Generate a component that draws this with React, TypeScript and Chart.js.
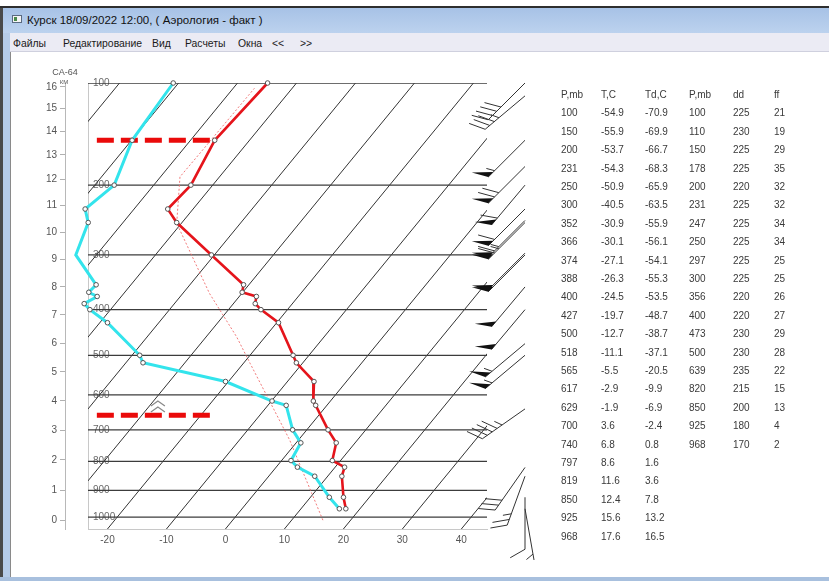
import React, { useEffect, useRef } from "react";
import { Chart, registerables } from "chart.js";

Chart.register(...registerables);

// ---- sounding data (table) ----
const PRESSURE_MB = [100, 150, 200, 231, 250, 300, 352, 366, 374, 388, 400, 427, 500, 518, 565, 617, 629, 700, 740, 797, 819, 850, 925, 968];
const TEMP_C = [-54.9, -55.9, -53.7, -54.3, -50.9, -40.5, -30.9, -30.1, -27.1, -26.3, -24.5, -19.7, -12.7, -11.1, -5.5, -2.9, -1.9, 3.6, 6.8, 8.6, 11.6, 12.4, 15.6, 17.6];
const DEW_C = [-70.9, -69.9, -66.7, -68.3, -65.9, -63.5, -55.9, -56.1, -54.1, -55.3, -53.5, -48.7, -38.7, -37.1, -20.5, -9.9, -6.9, -2.4, 0.8, 1.6, 3.6, 7.8, 13.2, 16.5];

// ---- wind data ----
const WIND_P = [100, 110, 150, 178, 200, 231, 247, 250, 297, 300, 356, 400, 473, 500, 639, 820, 850, 925, 968];
const WIND_DD = [225, 230, 225, 225, 220, 225, 225, 225, 225, 225, 220, 220, 230, 230, 235, 215, 200, 180, 170];
const WIND_FF = [21, 19, 29, 35, 32, 32, 34, 34, 25, 25, 26, 27, 29, 28, 22, 15, 13, 4, 2];

// ---- state curve (dotted) ----
const PARCEL_P = [1012, 731, 519, 458, 368, 251, 190, 163, 104];
const PARCEL_T = [15.3, -1.5, -18.9, -24.8, -35.5, -50.8, -56.7, -56.6, -56.4];

// ---- marker levels (thick dashed) ----
const MARKER_P = [150, 657];
const MARKER_X = [-21.8, -1.8];
const ICING_P = 617;
const ICING_X = -11.45;

// ---- grid / ticks ----
const ISOBARS = [100, 200, 300, 400, 500, 600, 700, 800, 900, 1000];
const ISOTHERMS = [-80, -70, -60, -50, -40, -30, -20, -10, 0, 10, 20, 30, 40];
const X_TICKS = [-20, -10, 0, 10, 20, 30, 40];
const KM_TICKS = [0, 1, 2, 3, 4, 5, 6, 7, 8, 9, 10, 11, 12, 13, 14, 15, 16];

const TABLE1_HEAD = ["P,mb", "T,C", "Td,C"];
const TABLE2_HEAD = ["P,mb", "dd", "ff"];
const MENU = ["Файлы", "Редактирование", "Вид", "Расчеты", "Окна", "<<", ">>"];
const MENU_X = [13, 63, 152, 185, 238, 272, 300];
const TITLE = "Курск 18/09/2022 12:00, ( Аэрология - факт )";

// ---- diagram transform ----
const KAPPA = 0.286;
const P_TOP = 100;
const P_BOTTOM = 1047;
const X_MIN = -23.3;
const X_MAX = 44.35;
const SKEW = 125.2;

const yOf = (p: number) => 1 - Math.pow(p / 1000, KAPPA);
const Y_MIN = yOf(P_BOTTOM);
const Y_MAX = yOf(P_TOP);
const skewX = (t: number, p: number) => t + SKEW * (yOf(p) - Y_MIN);
const pt = (t: number, p: number) => ({ x: skewX(t, p), y: yOf(p) });
const kmToP = (km: number) => {
  const z = km * 1000;
  if (z <= 11000) return 1013.25 * Math.pow(1 - 2.25577e-5 * z, 5.25588);
  return 226.32 * Math.exp(-(z - 11000) / 6341.6);
};

const FONT = "'Liberation Sans', Arial, sans-serif";

function drawBarb(ctx: CanvasRenderingContext2D, x0: number, y0: number, dd: number, ff: number) {
  const kt = Math.round((ff * 1.944) / 5) * 5;
  const a = (dd * Math.PI) / 180;
  const ux = Math.sin(a);
  const uy = -Math.cos(a);
  const L = 52;
  ctx.beginPath();
  ctx.moveTo(x0, y0);
  ctx.lineTo(x0 + ux * L, y0 + uy * L);
  ctx.stroke();
  const nx = -uy;
  const ny = ux;
  const bx = nx * 0.87 + ux * 0.5;
  const by = ny * 0.87 + uy * 0.5;
  const BL = 17;
  const SP = 6;
  let rem = kt;
  let d = L;
  while (rem >= 50) {
    const px = x0 + ux * d;
    const py = y0 + uy * d;
    ctx.beginPath();
    ctx.moveTo(px, py);
    ctx.lineTo(px + bx * BL, py + by * BL);
    ctx.lineTo(x0 + ux * (d - 7), y0 + uy * (d - 7));
    ctx.closePath();
    ctx.fill();
    d -= 9;
    rem -= 50;
  }
  while (rem >= 10) {
    const px = x0 + ux * d;
    const py = y0 + uy * d;
    ctx.beginPath();
    ctx.moveTo(px, py);
    ctx.lineTo(px + bx * BL, py + by * BL);
    ctx.stroke();
    d -= SP;
    rem -= 10;
  }
  if (rem >= 5) {
    if (d === L) d -= SP;
    const px = x0 + ux * d;
    const py = y0 + uy * d;
    ctx.beginPath();
    ctx.moveTo(px, py);
    ctx.lineTo(px + (bx * BL) / 2, py + (by * BL) / 2);
    ctx.stroke();
  }
}

const overlayPlugin = {
  id: "skewOverlay",
  beforeDatasetsDraw(chart: any) {
    const { ctx, chartArea, scales } = chart;
    const ys = scales.y;
    ctx.save();
    ctx.font = `10px ${FONT}`;
    ctx.fillStyle = "#6a6a6a";
    ctx.textBaseline = "middle";
    ctx.textAlign = "left";
    ISOBARS.forEach((p) => ctx.fillText(String(p), chartArea.left + 5, ys.getPixelForValue(yOf(p))));
    ctx.restore();
  },
  afterDraw(chart: any) {
    const { ctx, chartArea, scales } = chart;
    const ys = scales.y;
    const xs = scales.x;
    const km = scales.km;
    ctx.save();
    ctx.fillStyle = "#555";
    ctx.textAlign = "center";
    ctx.textBaseline = "middle";
    ctx.font = `9px ${FONT}`;
    ctx.fillText("СА-64", km.right, chartArea.top - 10);
    ctx.font = `6px ${FONT}`;
    ctx.fillText("КМ", km.right - 1, chartArea.top - 1);

    // icing chevrons
    const ix = xs.getPixelForValue(ICING_X);
    const iy = ys.getPixelForValue(yOf(ICING_P));
    ctx.strokeStyle = "#8a8a8a";
    ctx.lineWidth = 1.3;
    [0, 6].forEach((off) => {
      ctx.beginPath();
      ctx.moveTo(ix - 7, iy + off + 5);
      ctx.lineTo(ix, iy + off);
      ctx.lineTo(ix + 7, iy + off + 5);
      ctx.stroke();
    });

    // wind barbs
    ctx.strokeStyle = "#333";
    ctx.fillStyle = "#111";
    ctx.lineWidth = 1;
    const sx = chartArea.right + 38;
    WIND_P.forEach((p, i) => {
      drawBarb(ctx, sx, ys.getPixelForValue(yOf(p)), WIND_DD[i], WIND_FF[i]);
    });
    ctx.restore();
  },
};

export default function App() {
  const canvasRef = useRef<HTMLCanvasElement | null>(null);

  useEffect(() => {
    const canvas = canvasRef.current;
    if (!canvas) return;
    Chart.defaults.font.family = FONT;

    const pointStyle = {
      pointRadius: 2.3,
      pointBackgroundColor: "#ffffff",
      pointBorderColor: "#555555",
      pointBorderWidth: 1,
    };

    const datasets: any[] = [
      {
        label: "T",
        data: PRESSURE_MB.map((p, i) => pt(TEMP_C[i], p)),
        borderColor: "#e5141b",
        borderWidth: 2.6,
        clip: false,
        yAxisID: "y",
        ...pointStyle,
      },
      {
        label: "Td",
        data: PRESSURE_MB.map((p, i) => pt(DEW_C[i], p)),
        borderColor: "#33e4ec",
        borderWidth: 3,
        clip: false,
        yAxisID: "y",
        ...pointStyle,
      },
      ...MARKER_P.map((p) => ({
        label: "mark" + p,
        data: [
          { x: MARKER_X[0], y: yOf(p) },
          { x: MARKER_X[1], y: yOf(p) },
        ],
        borderColor: "#ea0a0a",
        borderWidth: 5,
        borderDash: [17, 7],
        pointRadius: 0,
        clip: false,
        yAxisID: "y",
      })),
      {
        label: "parcel",
        data: PARCEL_P.map((p, i) => pt(PARCEL_T[i], p)),
        borderColor: "rgba(238,100,100,0.85)",
        borderWidth: 1,
        borderDash: [2, 2],
        pointRadius: 0,
        yAxisID: "y",
      },
      ...ISOBARS.map((p) => ({
        label: "p" + p,
        data: [
          { x: X_MIN, y: yOf(p) },
          { x: X_MAX, y: yOf(p) },
        ],
        borderColor: "#3c3c3c",
        borderWidth: 1.3,
        pointRadius: 0,
        yAxisID: "y",
      })),
      ...ISOTHERMS.map((t) => ({
        label: "t" + t,
        data: [
          { x: t, y: Y_MIN },
          { x: t + SKEW * (Y_MAX - Y_MIN), y: Y_MAX },
        ],
        borderColor: "#333333",
        borderWidth: 1,
        pointRadius: 0,
        yAxisID: "y",
      })),
    ];

    const chart = new Chart(canvas, {
      type: "line",
      data: { datasets },
      options: {
        animation: false,
        responsive: false,
        devicePixelRatio: 1,
        layout: { padding: { left: 23, top: 83, right: 342, bottom: 32 } },
        plugins: { legend: { display: false }, tooltip: { enabled: false } },
        elements: { line: { tension: 0 } },
        events: [],
        scales: {
          y: {
            type: "linear",
            position: "left",
            weight: 0,
            min: Y_MIN,
            max: Y_MAX,
            ticks: { display: false },
            grid: { display: false, drawTicks: false },
            border: { display: true, color: "#c8c8c8", width: 1 },
            afterFit: (s: any) => {
              s.width = 23;
            },
          },
          km: {
            type: "linear",
            position: "left",
            weight: 1,
            min: Y_MIN,
            max: Y_MAX,
            afterBuildTicks: (s: any) => {
              s.ticks = KM_TICKS.map((k) => ({ value: yOf(kmToP(k)) }));
            },
            ticks: {
              autoSkip: false,
              padding: 3,
              color: "#555",
              font: { size: 10, family: FONT },
              callback: (_v: any, i: number) => String(KM_TICKS[i]),
            },
            grid: { drawOnChartArea: false, drawTicks: true, tickLength: 5, color: "#b0b0b0" },
            border: { display: true, color: "#b8b8b8", width: 1 },
            afterFit: (s: any) => {
              s.width = 42;
            },
          },
          x: {
            type: "linear",
            position: "bottom",
            min: X_MIN,
            max: X_MAX,
            afterBuildTicks: (s: any) => {
              s.ticks = X_TICKS.map((v) => ({ value: v }));
            },
            ticks: {
              autoSkip: false,
              padding: 5,
              color: "#555",
              maxRotation: 0,
              font: { size: 10, family: FONT },
              callback: (v: any) => String(v),
            },
            grid: { display: false, drawTicks: false },
            border: { display: true, color: "#c8c8c8", width: 1 },
            afterFit: (s: any) => {
              s.height = 20;
            },
          },
        } as any,
      },
      plugins: [overlayPlugin],
    });
    return () => chart.destroy();
  }, []);

  const rowY = (i: number) => 95 + 18.4 * i;
  const cell = (text: string, x: number, i: number, key: string) => (
    <div
      key={key}
      style={{
        position: "absolute",
        left: x,
        top: rowY(i) - 6,
        height: 12,
        lineHeight: "12px",
        fontSize: 10,
        color: "#3a3a3a",
        whiteSpace: "nowrap",
      }}
    >
      {text}
    </div>
  );

  const table: React.ReactNode[] = [];
  [561, 601, 645].forEach((x, c) => table.push(cell(TABLE1_HEAD[c], x, 0, "h1" + c)));
  [689, 733, 774].forEach((x, c) => table.push(cell(TABLE2_HEAD[c], x, 0, "h2" + c)));
  PRESSURE_MB.forEach((p, i) => {
    table.push(cell(String(p), 561, i + 1, "p" + i));
    table.push(cell(TEMP_C[i].toFixed(1), 601, i + 1, "t" + i));
    table.push(cell(DEW_C[i].toFixed(1), 645, i + 1, "d" + i));
  });
  WIND_P.forEach((p, i) => {
    table.push(cell(String(p), 689, i + 1, "wp" + i));
    table.push(cell(String(WIND_DD[i]), 733, i + 1, "wd" + i));
    table.push(cell(String(WIND_FF[i]), 774, i + 1, "wf" + i));
  });

  return (
    <div
      style={{
        position: "fixed",
        left: 0,
        top: 0,
        width: 829,
        height: 581,
        background: "#ffffff",
        overflow: "hidden",
        fontFamily: FONT,
      }}
    >
      <canvas ref={canvasRef} width={829} height={581} style={{ position: "absolute", left: 0, top: 0 }} />
      {/* window chrome */}
      <div style={{ position: "absolute", left: 0, top: 6, width: 829, height: 2, background: "#2e2e2e" }} />
      <div
        style={{
          position: "absolute",
          left: 0,
          top: 8,
          width: 829,
          height: 25,
          background: "linear-gradient(#a7c2e6, #bcd2ee)",
        }}
      />
      <div
        style={{
          position: "absolute",
          left: 12,
          top: 15,
          width: 10,
          height: 8,
          background: "#f4f4f4",
          border: "1px solid #5a6a80",
          boxSizing: "border-box",
        }}
      >
        <div style={{ position: "absolute", left: 1, top: 1, width: 3, height: 4, background: "#4a8a4a" }} />
      </div>
      <div
        style={{
          position: "absolute",
          left: 27,
          top: 13,
          fontSize: 11.5,
          lineHeight: "14px",
          color: "#111",
          whiteSpace: "nowrap",
        }}
      >
        {TITLE}
      </div>
      <div
        style={{
          position: "absolute",
          left: 0,
          top: 33,
          width: 829,
          height: 18,
          background: "#ebebf4",
          borderBottom: "1px solid #cfd0de",
        }}
      />
      {MENU.map((m, i) => (
        <div
          key={m}
          style={{
            position: "absolute",
            left: MENU_X[i],
            top: 37,
            fontSize: 10.4,
            lineHeight: "13px",
            color: "#1a1a1a",
            whiteSpace: "nowrap",
          }}
        >
          {m}
        </div>
      ))}
      <div style={{ position: "absolute", left: 0, top: 8, width: 3, height: 573, background: "#4a4a4a" }} />
      <div style={{ position: "absolute", left: 3, top: 33, width: 7, height: 548, background: "#b6cce8" }} />
      <div style={{ position: "absolute", left: 10, top: 52, width: 1, height: 526, background: "#8a8a8a" }} />
      <div style={{ position: "absolute", left: 0, top: 577, width: 829, height: 4, background: "#a8c0de" }} />
      {table}
    </div>
  );
}
